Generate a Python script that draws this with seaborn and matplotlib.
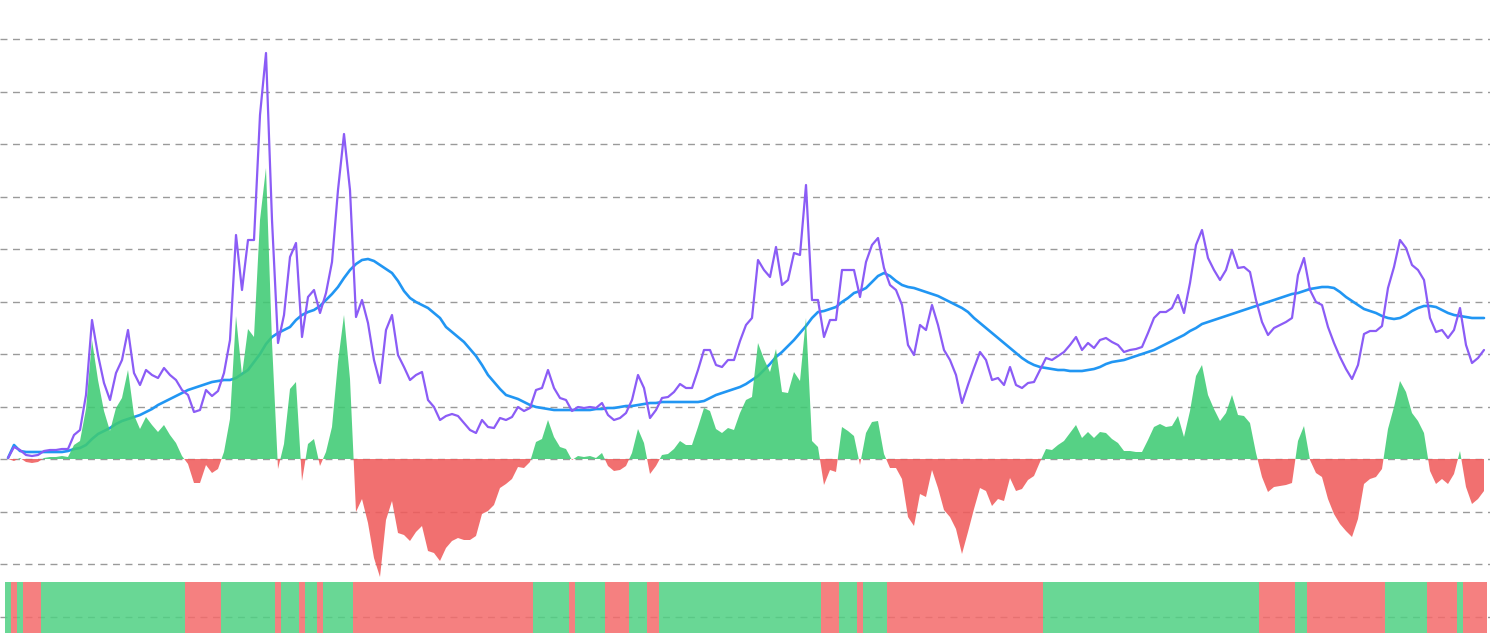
import numpy as np
import pandas as pd
import seaborn as sns
import matplotlib.pyplot as plt
from matplotlib.ticker import MultipleLocator


# price and its moving average, one value per step (units: grid step = 52.5)
price = [
    1, 12, 9, 4, 3, 4, 8, 9, 9, 10,
    10, 24, 29, 64, 139, 104, 76, 59, 86, 99,
    129, 86, 74, 89, 84, 81, 91, 84, 79, 69,
    64, 47, 49, 69, 63, 68, 86, 119, 224, 169,
    219, 219, 344, 406, 239, 116, 144, 202, 216, 122,
    162, 169, 146, 166, 197, 269, 325, 269, 142, 159,
    136, 99, 76, 129, 144, 104, 92, 79, 84, 87,
    59, 52, 39, 43, 45, 43, 36, 29, 26, 39,
    32, 31, 41, 39, 42, 52, 48, 51, 69, 71,
    89, 71, 61, 59, 48, 52, 51, 52, 51, 56,
    44, 39, 41, 46, 59, 84, 71, 41, 49, 61,
    62, 67, 75, 71, 71, 89, 109, 109, 94, 92,
    99, 99, 118, 134, 141, 199, 189, 182, 212, 174,
    179, 206, 204, 274, 159, 159, 122, 139, 139, 189,
    189, 189, 162, 197, 214, 221, 191, 174, 169, 154,
    114, 104, 134, 129, 154, 134, 109, 99, 84, 56,
    74, 91, 107, 99, 79, 81, 74, 92, 74, 71,
    76, 77, 89, 101, 99, 103, 107, 114, 122, 109,
    116, 111, 119, 121, 117, 114, 107, 109, 110, 112,
    126, 141, 147, 147, 151, 164, 146, 176, 214, 229,
    201, 189, 179, 189, 209, 191, 192, 187, 159, 137,
    124, 131, 134, 137, 141, 184, 201, 169, 157, 154,
    132, 116, 102, 90, 80, 94, 125, 128, 128, 133,
    171, 192, 219, 211, 194, 189, 179, 141, 127, 129,
    121, 129, 151, 114, 96, 101, 109,
]

moving_avg = [
    1, 14, 8, 7, 7, 7, 7, 7, 7, 7,
    8, 10, 11, 14, 20, 25, 28, 31, 35, 38,
    40, 42, 44, 47, 50, 54, 57, 60, 63, 66,
    69, 71, 73, 75, 77, 78, 79, 79, 81, 85,
    89, 97, 105, 115, 122, 126, 129, 132, 139, 144,
    147, 149, 153, 159, 165, 172, 181, 189, 195, 199,
    200, 198, 194, 190, 186, 178, 168, 161, 157, 154,
    151, 146, 141, 132, 127, 122, 117, 110, 103, 94,
    84, 77, 70, 64, 62, 60, 57, 54, 52, 51,
    50, 49, 49, 49, 49, 49, 49, 49, 50, 50,
    51, 51, 52, 53, 53, 54, 55, 56, 56, 57,
    57, 57, 57, 57, 57, 57, 58, 61, 64, 66,
    68, 70, 72, 75, 79, 83, 89, 95, 102, 107,
    113, 119, 126, 133, 141, 147, 148, 150, 152, 157,
    161, 166, 168, 171, 177, 183, 186, 183, 178, 174,
    172, 171, 169, 167, 165, 163, 160, 157, 154, 151,
    147, 141, 136, 131, 126, 121, 116, 111, 106, 101,
    97, 94, 92, 91, 90, 89, 89, 88, 88, 88,
    89, 90, 92, 95, 97, 98, 99, 101, 103, 105,
    107, 109, 112, 115, 118, 121, 124, 128, 131, 135,
    137, 139, 141, 143, 145, 147, 149, 151, 153, 155,
    157, 159, 161, 163, 165, 166, 168, 170, 171, 172,
    172, 171, 167, 162, 158, 154, 150, 148, 146, 143,
    141, 140, 141, 144, 148, 151, 153, 153, 152, 149,
    146, 144, 143, 142, 141, 141, 141,
]

df = pd.DataFrame({"price": price, "ma": moving_avg})
df["step"] = np.arange(len(df))
df["diff"] = df["price"] - df["ma"]

GREEN = "#3fcb74"
RED = "#f05c5c"
BAND_GREEN = "#4fd183"
BAND_RED = "#f46a6a"

sns.set_theme(style="white")

fig = plt.figure(figsize=(14.9, 6.33), dpi=100)
ax = fig.add_axes([0, 0, 1, 1])

sns.lineplot(data=df, x="step", y="ma", color="#2196f3", linewidth=1.9, ax=ax, zorder=2)

ax.fill_between(df["step"], 0, df["diff"], where=df["diff"] >= 0, interpolate=True,
                color=GREEN, alpha=0.88, linewidth=0, zorder=3)
ax.fill_between(df["step"], 0, df["diff"], where=df["diff"] < 0, interpolate=True,
                color=RED, alpha=0.88, linewidth=0, zorder=3)

band_colors = [BAND_GREEN if d >= 0 else BAND_RED for d in df["diff"]]
ax.bar(df["step"], 60, bottom=-183, width=1.0, color=band_colors, alpha=0.85,
       linewidth=0, zorder=3)

sns.lineplot(data=df, x="step", y="price", color="#8b5cf6", linewidth=1.6, ax=ax, zorder=4)

ax.set_xlim(-8 / 6, 1482 / 6)
ax.set_ylim(-174, 459)
ax.yaxis.set_major_locator(MultipleLocator(52.5))
ax.grid(axis="y", color="#9a9a9a", linestyle=(0, (5, 4)), linewidth=1.0, zorder=0)
ax.set_axisbelow(True)
ax.set_xlabel("")
ax.set_ylabel("")
ax.set_xticks([])
ax.tick_params(left=False, labelleft=False)
for s in ax.spines.values():
    s.set_visible(False)

fig.savefig("out.png", dpi=100)
